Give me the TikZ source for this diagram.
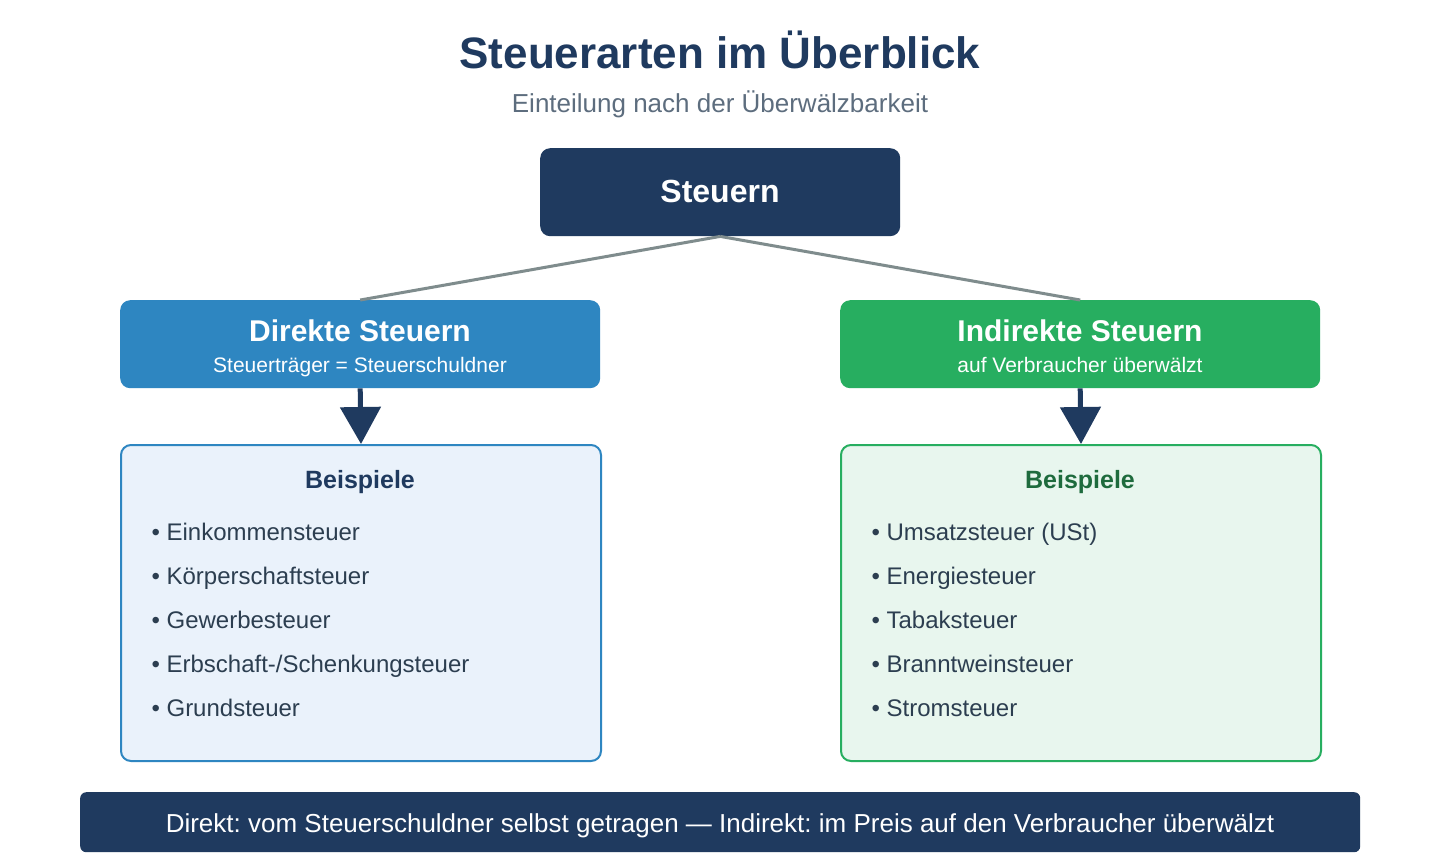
\documentclass[tikz,border=0pt]{standalone}
\usepackage{fontspec}
\setmainfont{Liberation Sans}
\usetikzlibrary{arrows.meta}
\definecolor{navy}{HTML}{1F3A5F}
\definecolor{dirblue}{HTML}{2E86C1}
\definecolor{indgreen}{HTML}{27AE60}
\definecolor{greyline}{HTML}{7F8C8D}
\definecolor{subgrey}{HTML}{5D6D7E}
\definecolor{itemtext}{HTML}{2C3E50}
\definecolor{lightblue}{HTML}{EAF2FB}
\definecolor{lightgreen}{HTML}{E8F6EE}
\definecolor{darkgreen}{HTML}{1E6B3D}
\frenchspacing
\begin{document}
\begin{tikzpicture}[x=1pt,y=-1pt,
  headbox/.style={rounded corners=10pt,inner sep=0pt,anchor=north west},
  listbox/.style={rounded corners=10pt,line width=2pt,inner sep=0pt,anchor=north west},
  headtitle/.style={font=\fontsize{30}{34}\selectfont\bfseries,text=white,anchor=base},
  headsub/.style={font=\fontsize{21}{24}\selectfont,text=white,anchor=base},
  item/.style={font=\fontsize{24}{28}\selectfont,text=itemtext,anchor=base west},
  listhead/.style={font=\fontsize{25}{28}\selectfont\bfseries,anchor=base},
  link/.style={draw=greyline,line width=3pt},
  downarrow/.style={draw=navy,line width=5pt,-{Triangle[length=37pt,width=40pt]}}
]
\useasboundingbox (0,0) rectangle (1440,860);
\fill[white] (0,0) rectangle (1440,860);

% heading
\node[font=\fontsize{44}{50}\selectfont\bfseries,text=navy,anchor=base] (title) at (720,68) {Steuerarten im Überblick};
\node[font=\fontsize{26}{30}\selectfont,text=subgrey,anchor=base] (subtitle) at (720,112) {Einteilung nach der Überwälzbarkeit};

% root node
\node[headbox,fill=navy,minimum width=360pt,minimum height=88pt] (root) at (540,148) {};
\node[font=\fontsize{32}{36}\selectfont\bfseries,text=white,anchor=base] (roottxt) at (720,202) {Steuern};

% category nodes
\node[headbox,fill=dirblue,minimum width=480pt,minimum height=88pt] (dir) at (120,300) {};
\node[headtitle] (dirtitle) at (360,341) {Direkte Steuern};
\node[headsub] (dirsub) at (360,372) {Steuerträger = Steuerschuldner};

\node[headbox,fill=indgreen,minimum width=480pt,minimum height=88pt] (ind) at (840,300) {};
\node[headtitle] (indtitle) at (1080,341) {Indirekte Steuern};
\node[headsub] (indsub) at (1080,372) {auf Verbraucher überwälzt};

% branches
\draw[link] (root.south) -- (dir.north);
\draw[link] (root.south) -- (ind.north);

% example boxes
\node[listbox,draw=dirblue,fill=lightblue,minimum width=480pt,minimum height=316pt] (dirlist) at (120,444) {};
\node[listbox,draw=indgreen,fill=lightgreen,minimum width=480pt,minimum height=316pt] (indlist) at (840,444) {};

\draw[downarrow] (dir.south) -- (dirlist.north);
\draw[downarrow] (ind.south) -- (indlist.north);

\node[listhead,text=navy] (dirhead) at (360,488) {Beispiele};
\node[item] (d1) at (148,540) {• Einkommensteuer};
\node[item] (d2) at (148,584) {• Körperschaftsteuer};
\node[item] (d3) at (148,628) {• Gewerbesteuer};
\node[item] (d4) at (148,672) {• Erbschaft-/Schenkungsteuer};
\node[item] (d5) at (148,716) {• Grundsteuer};

\node[listhead,text=darkgreen] (indhead) at (1080,488) {Beispiele};
\node[item] (i1) at (868,540) {• Umsatzsteuer (USt)};
\node[item] (i2) at (868,584) {• Energiesteuer};
\node[item] (i3) at (868,628) {• Tabaksteuer};
\node[item] (i4) at (868,672) {• Branntweinsteuer};
\node[item] (i5) at (868,716) {• Stromsteuer};

% summary bar
\node[rounded corners=6pt,fill=navy,minimum width=1280pt,minimum height=60pt,inner sep=0pt,anchor=north west] (bar) at (80,792) {};
\node[font=\fontsize{26}{30}\selectfont,text=white,anchor=base] (bartxt) at (720,832) {Direkt: vom Steuerschuldner selbst getragen — Indirekt: im Preis auf den Verbraucher überwälzt};
\end{tikzpicture}
\end{document}
